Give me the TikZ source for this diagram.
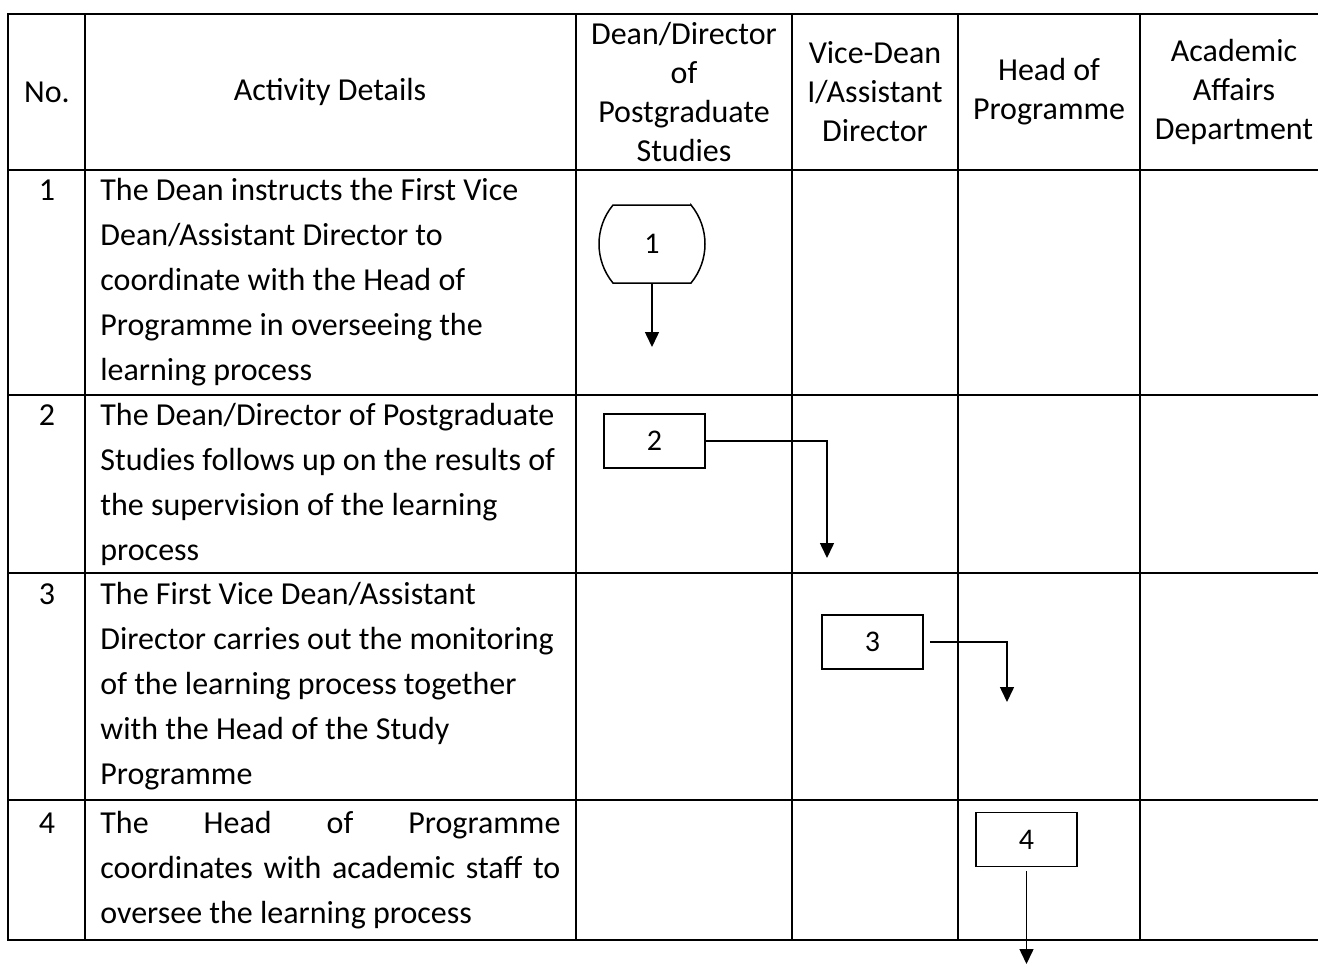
\documentclass[tikz,border=0pt]{standalone}
\usepackage{fontspec}
\setmainfont{Carlito}
\usetikzlibrary{positioning,arrows.meta}

\begin{document}
\begin{tikzpicture}[
    x=0.5pt, y=-0.5pt,
    grid/.style={line width=1pt, line cap=rect},
    head/.style={align=center, inner sep=0pt, font=\fontsize{16}{19.5}\selectfont},
    body/.style={text width=236pt, align=justify, inner sep=0pt, anchor=west, font=\fontsize{16}{22.5}\selectfont},
    num/.style={inner sep=0pt, anchor=base, font=\fontsize{16}{22.5}\selectfont},
    stepbox/.style={draw, line width=0.75pt, minimum width=50.5pt, minimum height=27pt, inner sep=0pt, font=\fontsize{15}{17}\selectfont},
    startbox/.style={stepbox, draw=none, outer sep=0pt, minimum width=53pt, minimum height=39pt},
    flow/.style={-{Triangle[length=7.5pt,width=7pt]}, line width=0.75pt}
  ]
    \useasboundingbox (0,0) rectangle (1318,965);

    % table rules
    \foreach \y in {14,170,395,573,800,940}
      \draw[grid] (8,\y) -- (1318,\y);
    \foreach \x in {8,85,576,792,958,1140}
      \draw[grid] (\x,14) -- (\x,940);

    % header
    \node[head] (hno) at (47,92) {No.};
    \node[head] (hact) at (330,92) {Activity Details};
    \node[head] (hdean) at (684,92) {Dean/Director\\of\\Postgraduate\\Studies};
    \node[head] (hvice) at (875,92) {Vice-Dean\\I/Assistant\\Director};
    \node[head] (hhop) at (1049,92) {Head of\\Programme};
    \node[head] (haad) at (1234,92) {Academic\\Affairs\\Department};

    % activities
    \node[body] (t1) at (100,282.5) {The Dean instructs the First Vice\\Dean/Assistant Director to\\coordinate with the Head of\\Programme in overseeing the\\learning process};
    \node[body] (t2) at (100,484) {The Dean/Director of Postgraduate\\Studies follows up on the results of\\the supervision of the learning\\process};
    \node[body] (t3) at (100,686.5) {The First Vice Dean/Assistant\\Director carries out the monitoring\\of the learning process together\\with the Head of the Study\\Programme};
    \node[body] (t4) at (100,870) {\makebox[230pt][s]{The Head of Programme}\\\makebox[230pt][s]{coordinates with academic staff to}\\oversee the learning process};

    \coordinate (nocol) at (47,0);
    \node[num] (n1) at (t1.base -| nocol) {1};
    \node[num] (n2) at (t2.base -| nocol) {2};
    \node[num] (n3) at (t3.base -| nocol) {3};
    \node[num] (n4) at (t4.base -| nocol) {4};

    % flow boxes
    \node[startbox] (b1) at (652,244) {1};
    \draw[line width=0.75pt] ([xshift=-7pt]b1.north east) -- ([xshift=7pt]b1.north west)
      arc[radius=30.66pt, start angle=140.5, end angle=219.5]
      -- ([xshift=-7pt]b1.south east)
      arc[radius=30.66pt, start angle=-39.5, end angle=39.5] -- cycle;
    \node[stepbox] (b2) at (654.5,441) {2};
    \node[stepbox] (b3) at (872.5,642) {3};
    \node[stepbox] (b4) at (1026.5,839.5) {4};

    \coordinate (e1) at (652,347);
    \coordinate (e2) at (827,558);
    \coordinate (e3) at (1007,702);
    \coordinate (e4) at (1026.5,964);

    \draw[flow] (b1) -- (e1);
    \draw[flow] (b2) -| (e2);
    \draw[flow, shorten <=3pt] (b3) -| (e3);
    \draw[flow, shorten <=2pt] (b4) -- (e4);
  \end{tikzpicture}
\end{document}
